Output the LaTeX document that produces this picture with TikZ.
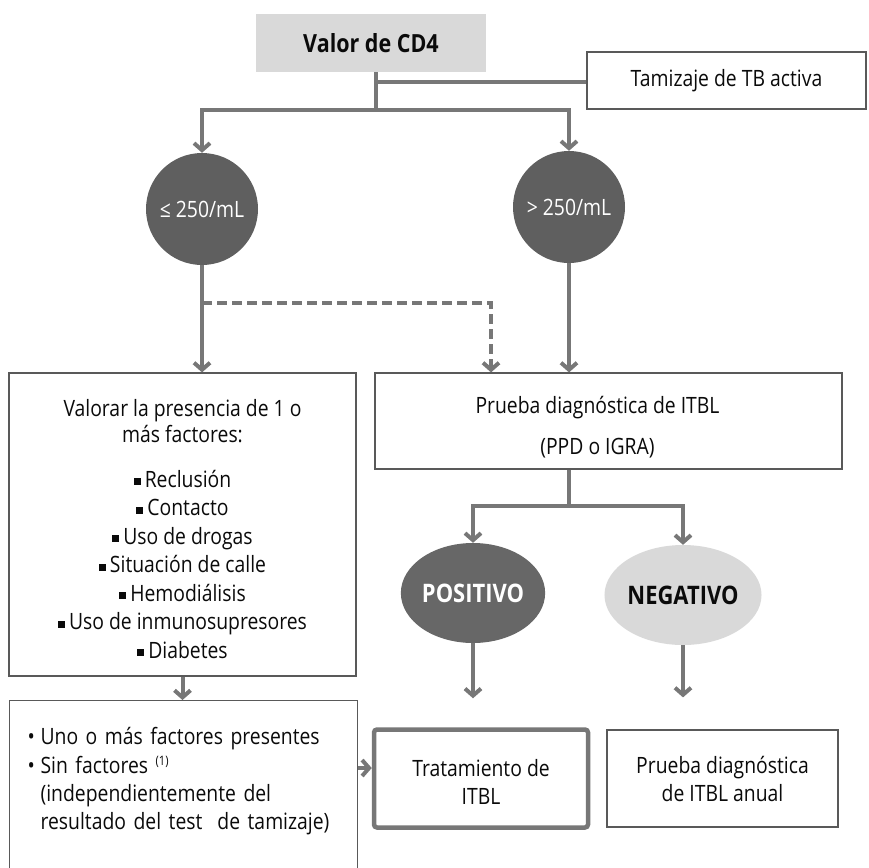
\documentclass[tikz,border=0pt]{standalone}
\usepackage{fontspec}
\setmainfont{Open Sans}[FakeStretch=0.86]
\usetikzlibrary{arrows.meta,shapes.geometric,calc}
\definecolor{lg}{HTML}{777777}
\definecolor{bd}{HTML}{595959}
\definecolor{darkc}{HTML}{5F5F5F}
\definecolor{posc}{HTML}{676767}
\definecolor{lightc}{HTML}{D9D9D9}
\definecolor{txt}{HTML}{0A0A0A}
\newcommand{\sqb}{\raisebox{2pt}{\rule{7pt}{7pt}}\hspace{4pt}}
\newcommand{\rb}{\makebox[22pt][l]{\hspace{9pt}•}}
\begin{document}
\begin{tikzpicture}[x=1pt,y=-1pt,
  font=\fontsize{22.5}{28}\selectfont,
  box/.style={draw=bd, line width=1.2pt, inner sep=0pt, align=center, text=txt},
  link/.style={draw=lg, line width=4pt},
  arr/.style={link, -{Straight Barb[length=7pt,width=16pt]}},
  darr/.style={arr, dash pattern=on 10pt off 5pt},
  circ/.style={circle, fill=darkc, minimum size=112pt, inner sep=0pt, text=white, font=\fontsize{22.5}{26}\selectfont},
  ell/.style={ellipse, minimum width=139pt, minimum height=100pt, inner sep=0pt, font=\fontsize{25.5}{28}\selectfont\bfseries}
]
\useasboundingbox (0,0) rectangle (869,867);
\clip (0,0) rectangle (869,867);

% nodes
\node[fill=lightc, minimum width=230pt, minimum height=58pt, inner sep=0pt, text=txt,
      font=\fontsize{25}{28}\selectfont\bfseries] (valor) at (371,43) {Valor de CD4};
\node[box, minimum width=279pt, minimum height=57pt] (tam) at (726.5,80.5) {Tamizaje de TB activa};
\node[circ] (c1) at (202,209) {≤ 250/mL};
\node[circ] (c2) at (569,207) {> 250/mL};
\node[box, minimum width=347pt, minimum height=303pt, font=\fontsize{22.5}{28.5}\selectfont] (val) at (182.5,524.5)
  {\rule{0pt}{26pt}Valorar la presencia de 1 o\\[-2.5pt]
   más factores:\\[16.5pt]
   \sqb Reclusión\\
   \sqb Contacto\\
   \sqb Uso de drogas\\
   \sqb Situación de calle\\
   \sqb Hemodiálisis\\
   \sqb Uso de inmunosupresores\\
   \sqb Diabetes};
\node[box, minimum width=467pt, minimum height=96pt] (prueba) at (608.5,421)
  {\rule{0pt}{30pt}Prueba diagnóstica de ITBL\hspace*{22pt}\\[13pt]
   (PPD o IGRA)\hspace*{22pt}};
\node[ell, fill=posc, text=white] (pos) at (473,593) {POSITIVO};
\node[ell, fill=lightc, text=txt] (neg) at (683,595) {NEGATIVO};
\node[box, anchor=north west, minimum width=348pt, text width=330pt, align=left,
      inner xsep=0pt, inner ysep=27pt] (uno) at (9,700)
  {\rb Uno o más factores presentes\\[1pt]
   \rb Sin factores \raisebox{8pt}{\fontsize{13}{13}\selectfont (1)}\\
   \hspace*{22pt}(independientemente del\\
   \hspace*{22pt}resultado del test~ de tamizaje)\\
   \mbox{}\\ \mbox{}};
\node[box, draw=lg, line width=4.5pt, rounded corners=3pt, minimum width=214pt, minimum height=98pt]
  (trat) at (481,778.5) {\rule{0pt}{24pt}Tratamiento de\\ ITBL};
\node[box, minimum width=231pt, minimum height=97pt] (anual) at (722.5,778.5)
  {Prueba diagnóstica\\ de ITBL anual};

% junction coordinates
\coordinate (j0) at (376,82);
\coordinate (j1) at (376,110);
\coordinate (d1) at (202,303);
\coordinate (dx) at (491,303);
\coordinate (j2) at (569,506);
\coordinate (a1) at (365,768);

% connectors
\draw[link] (valor.south -| j1) -- (j1);
\draw[link] (j0) -- (tam.west |- j0);
\draw[arr] (j1) -| (c1.north);
\draw[arr] (j1) -| (c2.north);
\draw[arr] (c1.south) -- (c1.south |- val.north);
\draw[darr] (d1) -- (dx) -- (dx |- prueba.north);
\draw[arr] (c2.south) -- (c2.south |- prueba.north);
\draw[link] (j2 |- prueba.south) -- (j2);
\draw[arr] (j2) -| (pos.north);
\draw[arr] (j2) -| (neg.north);
\draw[arr, shorten >=29pt] (pos.south) -- (pos.south |- trat.north);
\draw[arr, shorten >=32pt] (neg.south) -- (neg.south |- anual.north);
\draw[arr] (val.south) -- (val.south |- uno.north);
\draw[arr] (uno.east |- a1) -- (trat.west |- a1);
\end{tikzpicture}
\end{document}
